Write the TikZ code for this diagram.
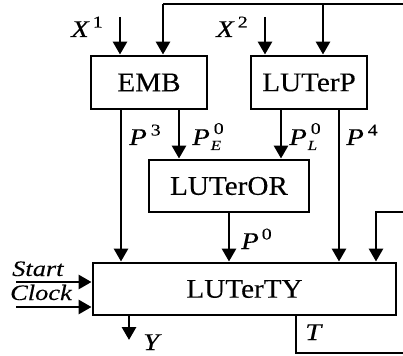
\documentclass[tikz,border=0pt]{standalone}
\usepackage{fontspec}
\setmainfont{Liberation Serif}[FakeStretch=1.08,FakeBold=0.2]
\newfontfamily\lf{Liberation Serif}[FakeStretch=1.2,FakeBold=0.2]
\usetikzlibrary{arrows.meta}
\begin{document}
\begin{tikzpicture}[x=1pt,y=-1pt,
  box/.style={draw,line width=2.9pt,minimum width=0pt,inner sep=0pt,font=\fontsize{27}{27}\selectfont},
  wire/.style={line width=2.9pt},
  arr/.style={line width=2.9pt,-{Triangle[length=13pt,width=14pt]}},
  lab/.style={anchor=base west,inner sep=0pt,font=\lf\fontsize{24}{24}\selectfont\itshape},
  sm/.style={anchor=base west,inner sep=0pt,font=\lf\fontsize{22}{22}\selectfont\itshape}]
\useasboundingbox (0,0) rectangle (403,355);
\newcommand\supnum[1]{\raisebox{9.5pt}{\fontsize{16.5}{16.5}\selectfont\upshape #1}}
\newcommand\subsup[2]{\rlap{\raisebox{-5pt}{\fontsize{14}{14}\selectfont\itshape #1}}\kern3pt\raisebox{11pt}{\fontsize{16.5}{16.5}\selectfont\upshape #2}}
% boxes
\node[box,minimum width=116pt,minimum height=53pt] (emb) at (149,82.5) {EMB};
\node[box,minimum width=116pt,minimum height=53pt] (lutp) at (309,82.5) {LUTerP};
\node[box,minimum width=160pt,minimum height=52pt] (lutor) at (229,186) {LUTerOR};
\node[box,minimum width=303pt,minimum height=52pt] (luty) at (244.5,289) {LUTerTY};
% coordinates
\coordinate (x1) at (120,17);
\coordinate (x2) at (265,17);
\coordinate (tl) at (163,4);
\coordinate (tm) at (323,4);
\coordinate (tr) at (403,4);
\coordinate (fbr) at (403,212);
\coordinate (fb) at (376,212);
\coordinate (st) at (16,282);
\coordinate (ck) at (16,307);
\coordinate (yend) at (129,340);
\coordinate (tb) at (296,353);
\coordinate (tbr) at (403,353);
% top inputs
\draw[arr] (x1) -- (x1|-emb.north);
\draw[arr] (x2) -- (x2|-lutp.north);
\draw[wire] (tr) -- (tl);
\draw[arr] (tl) -- (tl|-emb.north);
\draw[arr] (tm) -- (tm|-lutp.north);
% middle
\draw[arr] (121,0|-emb.south) -- (121,0|-luty.north);
\draw[arr] (179,0|-emb.south) -- (179,0|-lutor.north);
\draw[arr] (281,0|-lutp.south) -- (281,0|-lutor.north);
\draw[arr] (339,0|-lutp.south) -- (339,0|-luty.north);
\draw[arr] (229,0|-lutor.south) -- (229,0|-luty.north);
\draw[arr] (fbr) -- (fb) -- (fb|-luty.north);
% left inputs
\draw[arr] (st) -- (st-|luty.west);
\draw[arr] (ck) -- (ck-|luty.west);
% outputs
\draw[arr] (129,0|-luty.south) -- (yend);
\draw[wire] (296,0|-luty.south) -- (tb) -- (tbr);
% labels
\node[lab] (lx1) at (71,37) {X\kern4pt\supnum{1}};
\node[lab] (lx2) at (216,37) {X\kern4pt\supnum{2}};
\node[lab] (lp3) at (129,145) {P\kern4pt\supnum{3}};
\node[lab] (lpe) at (192,145) {P\kern1pt\subsup{E}{0}};
\node[lab] (lpl) at (289,145) {P\kern1pt\subsup{L}{0}};
\node[lab] (lp4) at (346,145) {P\kern4pt\supnum{4}};
\node[lab] (lp0) at (241,249) {P\kern3pt\supnum{0}};
\node[lab] (ly) at (143,350) {Y};
\node[lab] (lt) at (305,340) {T};
\node[sm] (lst) at (12,276) {Start};
\node[sm] (lck) at (10,300) {Clock};
\end{tikzpicture}
\end{document}
